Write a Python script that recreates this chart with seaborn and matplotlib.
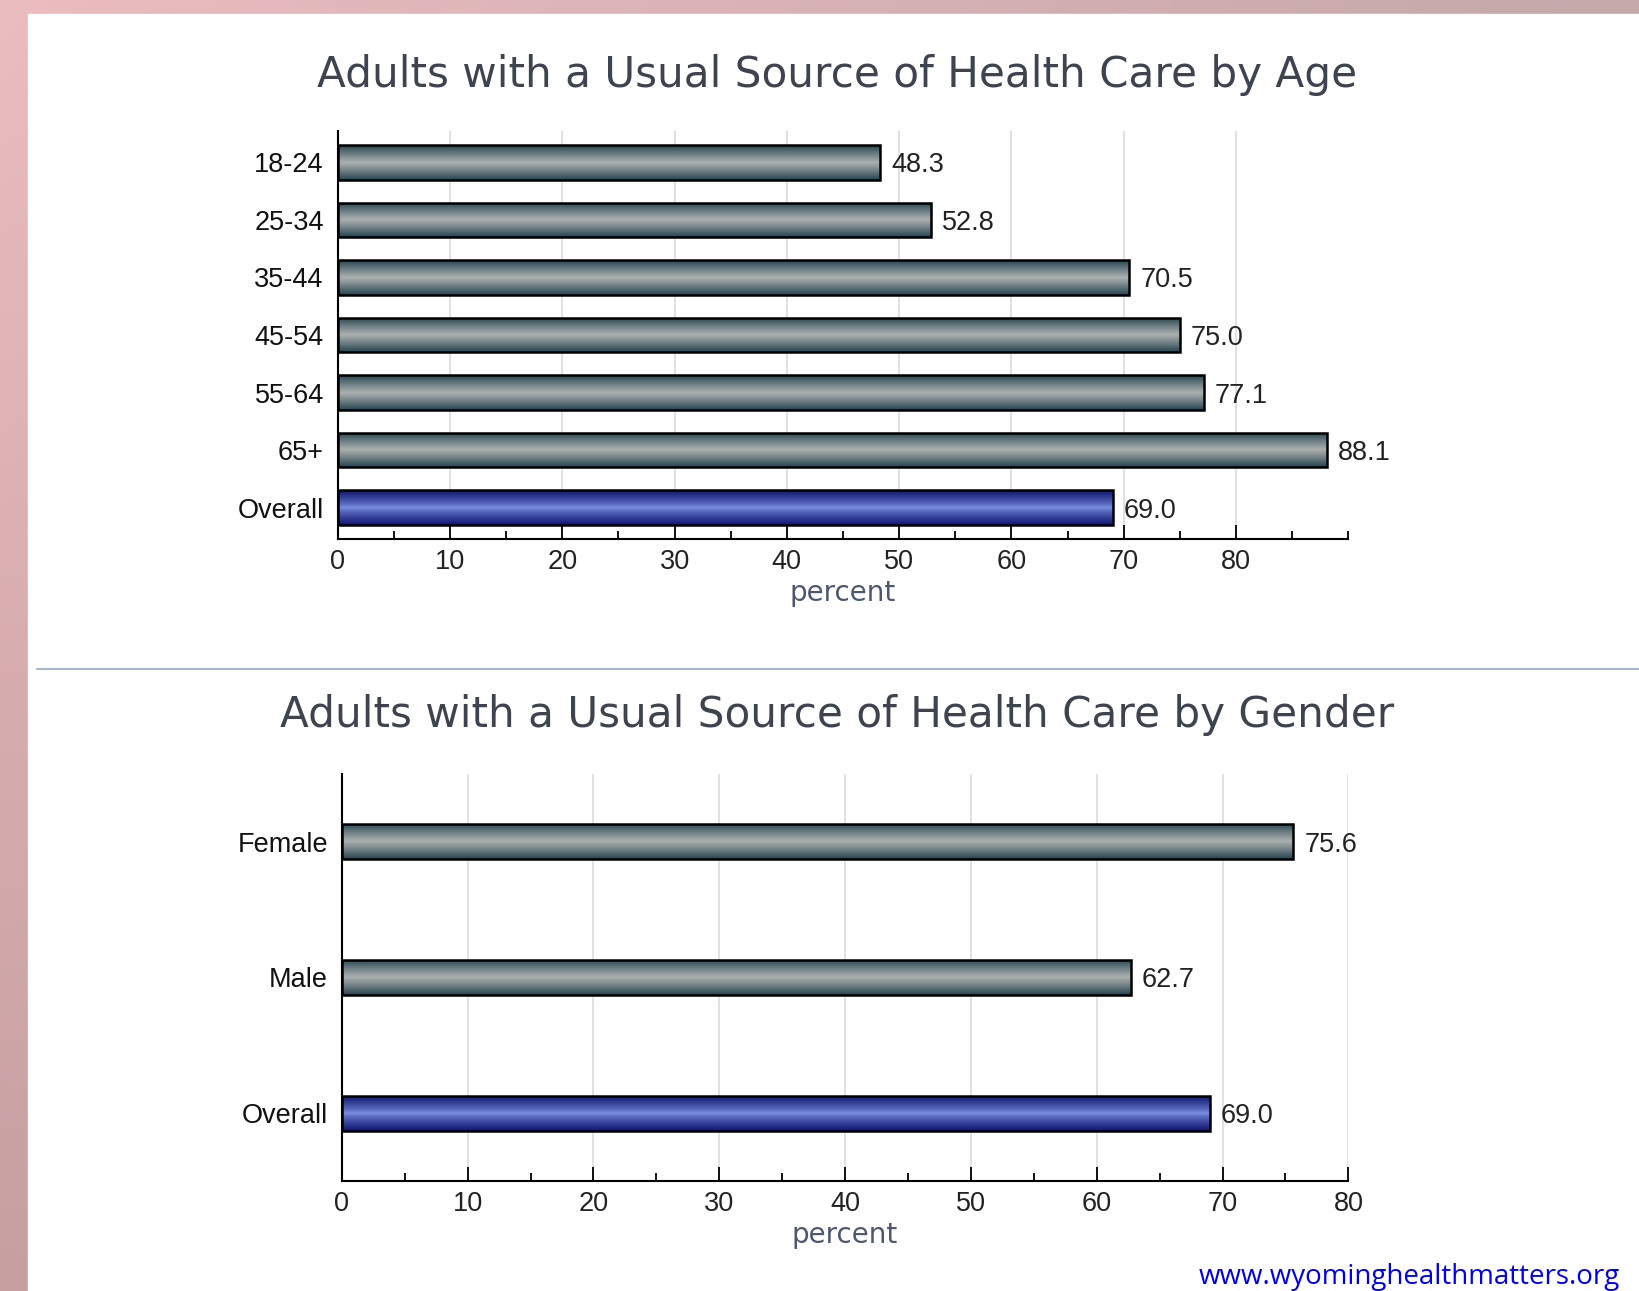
import numpy as np
import pandas as pd
import seaborn as sns
import matplotlib.pyplot as plt
from matplotlib.colors import to_rgb
from matplotlib.ticker import MultipleLocator

age_groups = ['18-24', '25-34', '35-44', '45-54', '55-64', '65+', 'Overall']
age_values = [48.3, 52.8, 70.5, 75.0, 77.1, 88.1, 69.0]
gender_groups = ['Female', 'Male', 'Overall']
gender_values = [75.6, 62.7, 69.0]

title_age = 'Adults with a Usual Source of Health Care by Age'
title_gender = 'Adults with a Usual Source of Health Care by Gender'
source = 'www.wyominghealthmatters.org'

SLATE = ('#254550', '#aaaeae', 1.1)
BLUE = ('#101670', '#7c92e4', 0.75)

sns.set_theme(style='white')
plt.rcParams['font.family'] = ['Liberation Sans', 'DejaVu Sans']

fig = plt.figure(figsize=(16.39, 12.91), dpi=100)

# pink frame behind the white panel
bg = fig.add_axes([0, 0, 1, 1], zorder=-10)
yy, xx = np.mgrid[0:1:200j, 0:1:200j]
c_tl, c_bl, c_tr = np.array(to_rgb('#ebbcc0')), np.array(to_rgb('#c79fa1')), np.array(to_rgb('#c4a8aa'))
img = (c_tl * (1 - xx)[..., None] * (1 - yy)[..., None] + c_bl * (1 - xx)[..., None] * yy[..., None]
       + c_tr * xx[..., None])
bg.imshow(np.clip(img, 0, 1), extent=[0, 1, 0, 1], origin='upper', aspect='auto')
bg.add_patch(plt.Rectangle((27 / 1568, 0), 1, 1 - 13 / 1235, color='white'))
bg.plot([35 / 1568, 1], [1 - 640 / 1235] * 2, color='#a8b8cc', lw=1.5)
bg.set_xlim(0, 1)
bg.set_ylim(0, 1)
bg.axis('off')


def gradient_bars(ax, kinds):
    for patch, (dark, light, power) in zip(ax.patches, kinds):
        prof = np.abs(np.linspace(-1, 1, 64)) ** power
        dark, light = np.array(to_rgb(dark)), np.array(to_rgb(light))
        grad = light[None, :] * (1 - prof[:, None]) + dark[None, :] * prof[:, None]
        x0, y0 = patch.get_x(), patch.get_y()
        w, h = patch.get_width(), patch.get_height()
        im = ax.imshow(grad[:, None, :], extent=[x0, x0 + w, y0 + h, y0], aspect='auto',
                       zorder=1.5, interpolation='bilinear')
        im.set_clip_path(patch)
        patch.set_facecolor('none')
        patch.set_edgecolor('black')
        patch.set_linewidth(1.8)
        patch.set_zorder(2)


def style_axis(ax, xmax, ylim, title, title_y):
    ax.set_xlim(0, xmax)
    ax.set_ylim(*ylim)
    ax.xaxis.set_major_locator(MultipleLocator(10))
    ax.xaxis.set_minor_locator(MultipleLocator(5))
    ax.set_xticks([t for t in range(0, 81, 10)])
    ax.grid(axis='x', which='major', color='#dcdcdc', lw=1.2)
    ax.set_axisbelow(True)
    for s in ['top', 'right']:
        ax.spines[s].set_visible(False)
    for s in ['left', 'bottom']:
        ax.spines[s].set_color('black')
        ax.spines[s].set_linewidth(1.5)
    ax.tick_params(axis='x', which='major', direction='in', length=10, width=1.3,
                   color='black', labelsize=19.5, labelcolor='#222222', pad=7, bottom=True)
    ax.tick_params(axis='x', which='minor', direction='in', length=6, width=1.3,
                   color='black', bottom=True)
    ax.tick_params(axis='y', length=0, labelsize=19.5, labelcolor='#111111', pad=10)
    for lbl in ax.get_yticklabels():
        lbl.set_va('center_baseline')
    ax.set_ylabel('')
    ax.set_xlabel('percent', fontsize=20, color='#4c5870', family='DejaVu Sans', labelpad=3)
    fig.text(0.511, title_y, title, ha='center', va='center', fontsize=30.3,
             color='#3d4450', family='DejaVu Sans')


def value_labels(ax):
    for c in ax.containers:
        for t in ax.bar_label(c, fmt='%.1f', padding=8, fontsize=19.5, color='#222222'):
            t.set_va('center_baseline')


# top chart: by age
ax1 = fig.add_axes([323 / 1568, 1 - 516 / 1235, (1290 - 323) / 1568, (516 - 125) / 1235])
df_age = pd.DataFrame({'group': age_groups, 'value': age_values})
sns.barplot(data=df_age, x='value', y='group', orient='h', color='gray', width=0.6,
            ax=ax1, saturation=1)
gradient_bars(ax1, [SLATE] * 6 + [BLUE])
value_labels(ax1)
style_axis(ax1, 90, (6.55, -0.55), title_age, 1 - 72 / 1235)

# bottom chart: by gender
ax2 = fig.add_axes([327 / 1568, 1 - 1130 / 1235, (1290 - 327) / 1568, (1130 - 740) / 1235])
df_gender = pd.DataFrame({'group': gender_groups, 'value': gender_values})
sns.barplot(data=df_gender, x='value', y='group', orient='h', color='gray', width=0.26,
            ax=ax2, saturation=1)
gradient_bars(ax2, [SLATE] * 2 + [BLUE])
value_labels(ax2)
style_axis(ax2, 80, (2.5, -0.5), title_gender, 1 - 684 / 1235)

fig.text(1550 / 1568, 1 - 1222 / 1235, source, ha='right', va='center', fontsize=20,
         color='#0000ee', family=['Open Sans', 'DejaVu Sans'])

fig.savefig('out.png', dpi=100)
